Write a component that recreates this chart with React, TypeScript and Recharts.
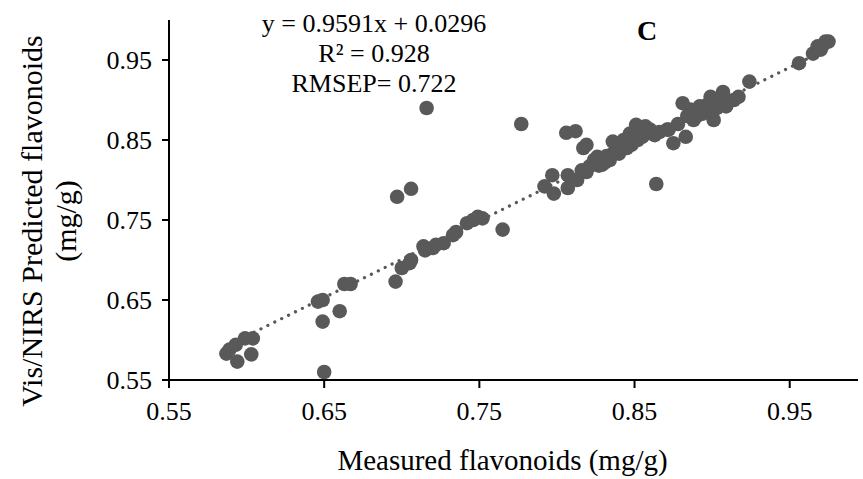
import React from 'react';
import { ScatterChart, Scatter, XAxis, YAxis, Label } from 'recharts';

const xTicks = [0.55, 0.65, 0.75, 0.85, 0.95];
const yTicks = [0.55, 0.65, 0.75, 0.85, 0.95];

const measured = [
  0.587, 0.589, 0.594, 0.593, 0.599, 0.604, 0.603, 0.646, 0.649, 0.649,
  0.660, 0.650, 0.663, 0.667, 0.696, 0.697, 0.706, 0.700, 0.705, 0.706,
  0.714, 0.715, 0.720, 0.722, 0.727, 0.733, 0.735, 0.742, 0.746, 0.749,
  0.752, 0.765, 0.716, 0.777, 0.792, 0.797, 0.798, 0.806, 0.812, 0.807,
  0.807, 0.813, 0.817, 0.819, 0.819, 0.821, 0.824, 0.829, 0.834, 0.836,
  0.836, 0.840, 0.843, 0.847, 0.848, 0.851, 0.857, 0.862, 0.860, 0.863,
  0.864, 0.871, 0.875, 0.872, 0.883, 0.881, 0.886, 0.888, 0.892, 0.894,
  0.899, 0.901, 0.903, 0.907, 0.909, 0.914, 0.917, 0.924, 0.956, 0.965,
  0.968, 0.970, 0.973, 0.975, 0.826, 0.831, 0.845, 0.852, 0.878, 0.890,
  0.855, 0.816, 0.838, 0.842, 0.849, 0.853, 0.858, 0.866, 0.884, 0.888,
  0.896, 0.903, 0.898, 0.905, 0.827, 0.832,
];
const predicted = [
  0.583, 0.588, 0.573, 0.594, 0.602, 0.602, 0.582, 0.648, 0.650, 0.623,
  0.636, 0.560, 0.670, 0.670, 0.673, 0.779, 0.789, 0.690, 0.696, 0.700,
  0.717, 0.712, 0.715, 0.719, 0.721, 0.731, 0.735, 0.746, 0.750, 0.754,
  0.752, 0.738, 0.890, 0.870, 0.792, 0.806, 0.783, 0.859, 0.861, 0.806,
  0.790, 0.800, 0.840, 0.844, 0.810, 0.817, 0.825, 0.819, 0.825, 0.848,
  0.833, 0.833, 0.850, 0.858, 0.844, 0.869, 0.867, 0.858, 0.863, 0.856,
  0.795, 0.863, 0.846, 0.863, 0.854, 0.896, 0.888, 0.875, 0.892, 0.883,
  0.904, 0.875, 0.898, 0.910, 0.892, 0.900, 0.904, 0.923, 0.946, 0.958,
  0.967, 0.963, 0.973, 0.973, 0.829, 0.822, 0.840, 0.850, 0.870, 0.880,
  0.854, 0.812, 0.838, 0.845, 0.853, 0.860, 0.862, 0.860, 0.880, 0.885,
  0.893, 0.890, 0.886, 0.903, 0.818, 0.830,
];

// linear fit printed on the figure
const slope = 0.9591;
const intercept = 0.0296;
const fitRange = [0.587, 0.975];

const points = measured.map((x, i) => ({ x, y: predicted[i] }));
const fitLine = fitRange.map((x) => ({ x, y: slope * x + intercept }));

const serif = '"Liberation Serif", "Times New Roman", serif';
const grey = '#595959';

const XTitle = (props: any) => {
  const { viewBox } = props;
  const cx = viewBox.x + viewBox.width / 2 - 11;
  return (
    <text x={cx} y={470} textAnchor="middle" fontFamily={serif} fontSize={29} fill="#000">
      Measured flavonoids (mg/g)
    </text>
  );
};

const YTitle = () => {
  const cy = 221;
  return (
    <g fontFamily={serif} fontSize={30} fill="#000">
      <text x={42} y={cy} textAnchor="middle" transform={`rotate(-90, 42, ${cy})`}>
        Vis/NIRS Predicted flavonoids
      </text>
      <text x={76} y={cy} textAnchor="middle" transform={`rotate(-90, 76, ${cy})`}>
        (mg/g)
      </text>
    </g>
  );
};

export default function App() {
  const tickStyle = { fontFamily: serif, fontSize: 26, fill: '#000' };
  return (
    <div style={{ position: 'absolute', left: 0, top: 0, width: 863, height: 479, background: '#fff' }}>
      <ScatterChart width={863} height={479} margin={{ top: 20, right: 5, bottom: 0, left: 0 }}>
        <XAxis
          type="number"
          dataKey="x"
          domain={[0.55, 0.994]}
          ticks={xTicks}
          tickFormatter={(v) => v.toFixed(2)}
          allowDataOverflow
          height={99}
          tick={tickStyle}
          axisLine={{ stroke: '#000', strokeWidth: 2 }}
          tickLine={{ stroke: '#000', strokeWidth: 2 }}
          tickSize={8}
          tickMargin={14}
        >
          <Label content={<XTitle />} />
        </XAxis>
        <YAxis
          type="number"
          dataKey="y"
          domain={[0.55, 1.0]}
          ticks={yTicks}
          tickFormatter={(v) => v.toFixed(2)}
          allowDataOverflow
          width={169}
          tick={tickStyle}
          axisLine={{ stroke: '#000', strokeWidth: 2 }}
          tickLine={{ stroke: '#000', strokeWidth: 2 }}
          tickSize={7}
          tickMargin={10}
        >
          <Label content={<YTitle />} />
        </YAxis>
        <Scatter
          data={fitLine}
          line={{ stroke: grey, strokeWidth: 3.2, strokeDasharray: '0.1 7.6', strokeLinecap: 'round' }}
          shape={() => <g />}
          legendType="none"
          isAnimationActive={false}
        />
        <Scatter data={points} fill={grey} shape={(p: any) => <circle cx={p.cx} cy={p.cy} r={7.3} fill={grey} />} isAnimationActive={false} />
      </ScatterChart>
      <svg width={863} height={479} style={{ position: 'absolute', left: 0, top: 0, pointerEvents: 'none' }}>
        <g fontFamily={serif} fontSize={26} fill="#000" textAnchor="middle">
          <text x={374} y={32}>y = 0.9591x + 0.0296</text>
          <text x={374} y={62}>R² = 0.928</text>
          <text x={374} y={92}>RMSEP= 0.722</text>
        </g>
        <text x={647} y={40} textAnchor="middle" fontFamily={serif} fontSize={28} fontWeight="bold" fill="#000">
          C
        </text>
      </svg>
    </div>
  );
}
